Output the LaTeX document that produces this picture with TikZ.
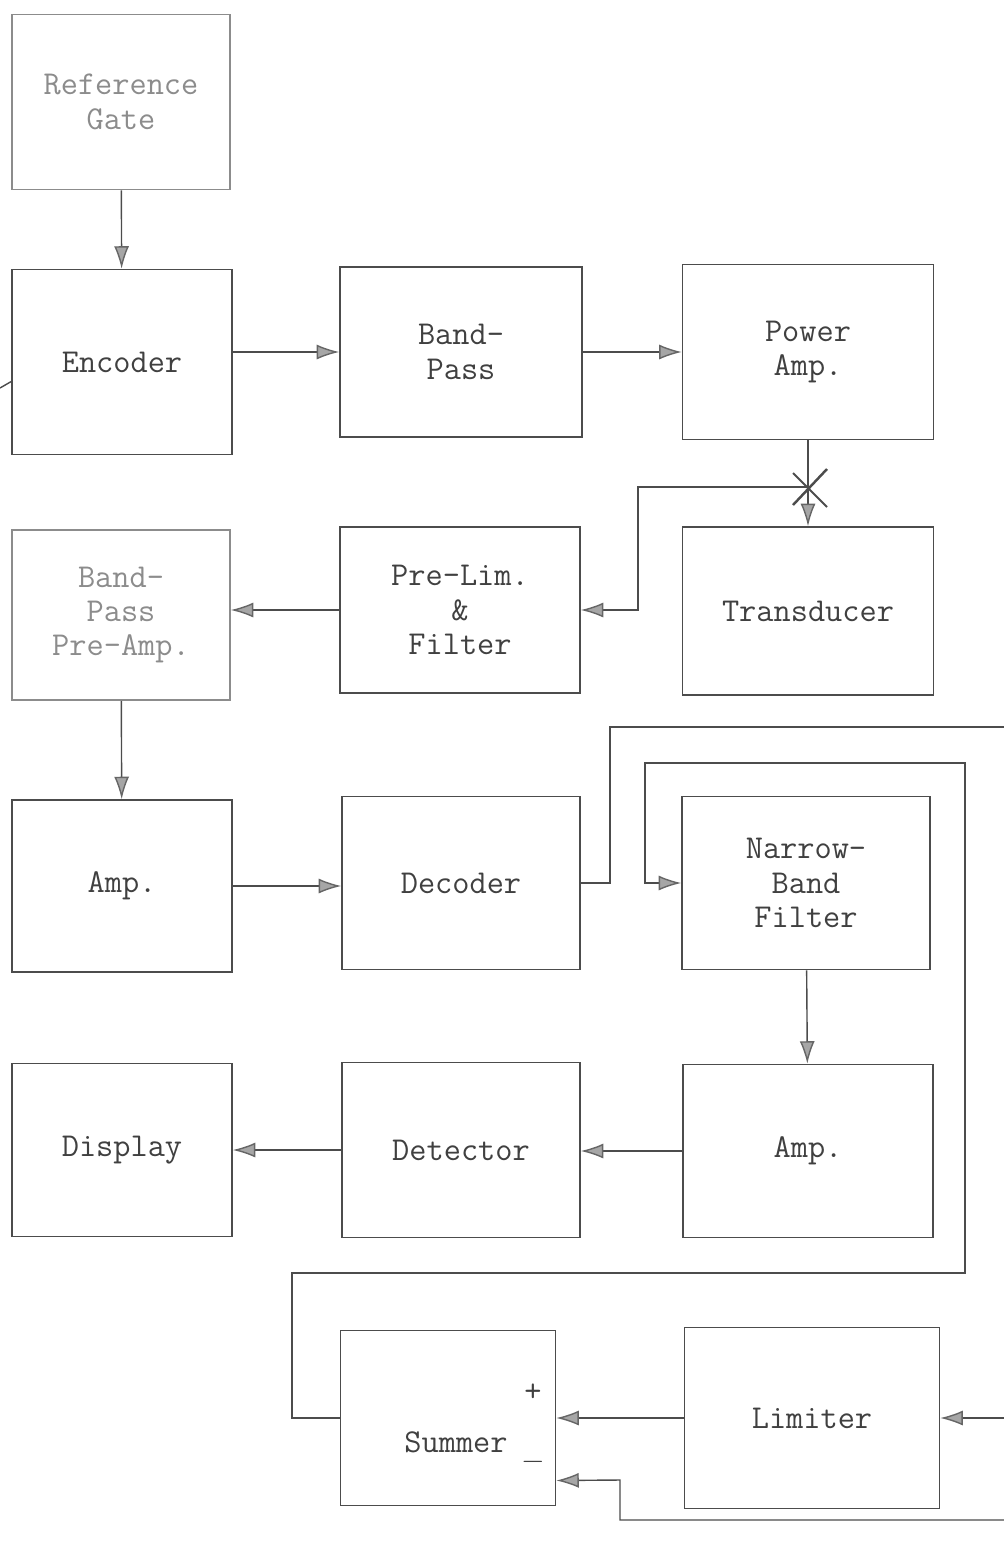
\documentclass[tikz,border=0pt]{standalone}
\usetikzlibrary{arrows.meta}
\begin{document}
\begin{tikzpicture}[x=0.02cm, y=-0.02cm,
    blk/.style={draw=black!70, line width=0.9pt, text=black!75, align=center,
      font=\ttfamily\fontsize{19}{19.5}\selectfont, inner sep=0pt},
    faded/.style={draw=black!45, text=black!45},
    wire/.style={draw=black!70, line width=0.8pt},
    arr/.style={wire, -{Latex[length=4.5mm, width=3mm, fill=black!35, color=black!60]}}]
    \useasboundingbox (0,0) rectangle (1004,1559);

    % Blocks
    \node[blk, faded, minimum width=4.36cm, minimum height=3.5cm] (gate) at (121,102) {Reference\\Gate};
    \node[blk, minimum width=4.4cm, minimum height=3.7cm] (enc) at (122,362) {Encoder};
    \node[blk, minimum width=4.84cm, minimum height=3.4cm] (bp) at (461,352) {Band-\\Pass};
    \node[blk, minimum width=5.02cm, minimum height=3.5cm] (pa) at (808,352) {Power\\Amp.};
    \node[blk, minimum width=5.02cm, minimum height=3.36cm] (trans) at (808,611) {Transducer};
    \node[blk, minimum width=4.8cm, minimum height=3.32cm] (prelim) at (460,610) {Pre-Lim.\\\&\\Filter};
    \node[blk, faded, minimum width=4.36cm, minimum height=3.4cm] (bppre) at (121,615) {Band-\\Pass\\Pre-Amp.};
    \node[blk, minimum width=4.4cm, minimum height=3.44cm] (ampa) at (122,886) {Amp.};
    \node[blk, minimum width=4.76cm, minimum height=3.46cm] (dec) at (461,883) {Decoder};
    \node[blk, minimum width=4.96cm, minimum height=3.46cm] (nbf) at (806,883) {Narrow-\\Band\\Filter};
    \node[blk, minimum width=5.0cm, minimum height=3.46cm] (ampb) at (808,1151) {Amp.};
    \node[blk, minimum width=4.76cm, minimum height=3.5cm] (det) at (461,1150) {Detector};
    \node[blk, minimum width=4.4cm, minimum height=3.46cm] (disp) at (122,1150) {Display};
    \node[blk, minimum width=4.3cm, minimum height=3.5cm] (sum) at (448,1418) {};
    \node[blk, minimum width=5.1cm, minimum height=3.62cm] (lim) at (812,1418) {Limiter};

    % Summer labels
    \node[blk, draw=none] (sumtxt) at (456,1442) {Summer};
    \node[blk, draw=none] (plus) at (533,1393) {+};
    \node[blk, draw=none] (minus) at (533,1462) {$-$};

    % Free ends at the page edges
    \coordinate (encin) at (0,388);
    \coordinate (edgetop) at (1004,727);
    \coordinate (edgemid) at (1004,1418);
    \coordinate (edgebot) at (1004,1520);
    \coordinate (tap) at (808,487);

    % Transmit chain
    \draw[arr] (gate) -- (enc);
    \draw[wire] (encin) -- (enc.190);
    \draw[arr] (enc.east |- bp.west) -- (bp.west);
    \draw[arr] (bp.east) -- (pa.west);
    \draw[arr] (pa) -- (trans);
    \draw[arr] (tap) -- (638,487) |- (prelim.east);
    \draw[wire, line width=1.1pt] (793,473) -- (827,507);
    \draw[wire, line width=1.4pt] (827,469) -- (793,505);

    % Receive chain
    \draw[arr] (prelim.west) -- (bppre.east |- prelim.west);
    \draw[arr] (bppre) -- (ampa);
    \draw[arr] (ampa.east) -- (dec.west |- ampa.east);
    \draw[wire] (dec.east) -- (610,883) |- (edgetop);
    \draw[arr] (sum.west) -- (292,1418) |- (965,1273) |- (645,763) |- (nbf.west);
    \draw[arr] (nbf) -- (ampb);
    \draw[arr] (ampb.west) -- (det.east |- ampb.west);
    \draw[arr] (det.west) -- (disp.east |- det.west);

    % Limiter and summer inputs
    \draw[arr] (edgemid) -- (lim.east);
    \draw[arr] (lim.west) -- (sum.east);
    \draw[arr] (edgebot) -| (620,1480) -- (sum.-30);
\end{tikzpicture}
\end{document}
